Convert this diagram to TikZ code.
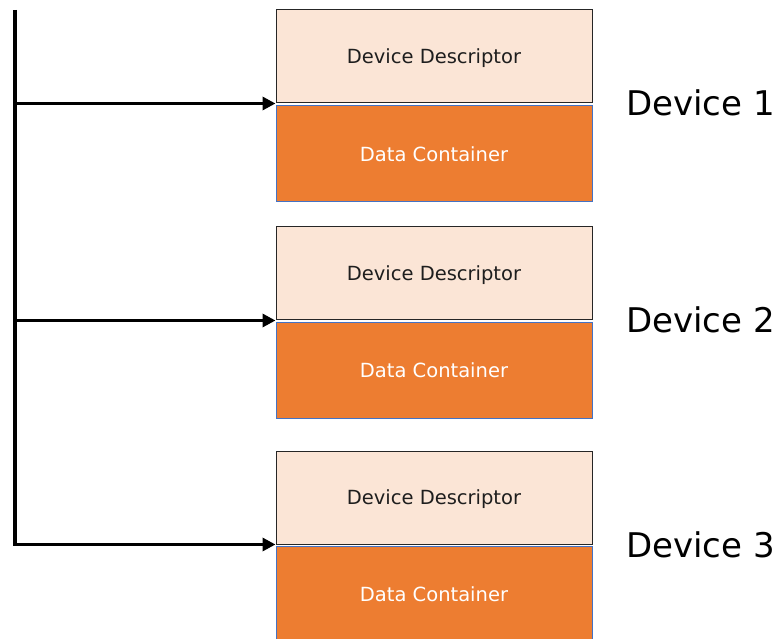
\documentclass[tikz,border=0pt]{standalone}
\usepackage{fontspec}
\setmainfont{DejaVu Sans}
\usetikzlibrary{arrows.meta}
\definecolor{descfill}{HTML}{FBE5D6}
\definecolor{contfill}{HTML}{ED7D31}
\definecolor{contedge}{HTML}{4472C4}
\definecolor{desctext}{HTML}{1E1E1E}
\tikzset{
  boxtext/.style={font=\fontsize{19.5}{23}\selectfont, text height=14.2pt, text depth=0pt},
  descbox/.style={draw=black!85, line width=1pt, fill=descfill, rectangle,
    minimum width=316pt, minimum height=93pt, inner sep=0pt,
    text=desctext, boxtext},
  contbox/.style={draw=contedge, line width=1pt, fill=contfill, rectangle,
    minimum width=316pt, minimum height=96pt, inner sep=0pt,
    text=white, boxtext},
  devlabel/.style={anchor=west, inner sep=0pt, font=\fontsize{34}{39}\selectfont},
  spine/.style={line width=3.6pt, black},
  feed/.style={line width=3.6pt, black, -{Triangle[length=13pt,width=13pt]}}
}
\begin{document}
\begin{tikzpicture}[x=1pt,y=-1pt]
\useasboundingbox (0,0) rectangle (780,639);

% device 1
\node[descbox] (d1) at (434,56.5) {Device Descriptor};
\node[contbox] (c1) at (434,154) {Data Container};
% device 2
\node[descbox] (d2) at (434,273.5) {Device Descriptor};
\node[contbox] (c2) at (434,370.5) {Data Container};
% device 3
\node[descbox] (d3) at (434,497.5) {Device Descriptor};
\node[contbox] (c3) at (434,594) {Data Container};

\node[devlabel] (l1) at (626,103) {Device 1};
\node[devlabel] (l2) at (626,320) {Device 2};
\node[devlabel] (l3) at (626,545) {Device 3};

% common bus on the left
\coordinate (top) at (15,10);
\coordinate (j1) at (top |- d1.south west);
\coordinate (j2) at (top |- d2.south west);
\coordinate (j3) at (top |- d3.south west);
\draw[spine] (top) -- ([yshift=-1.8pt]j3);
\draw[feed] (j1) -- (d1.south west);
\draw[feed] (j2) -- (d2.south west);
\draw[feed] (j3) -- (d3.south west);
\end{tikzpicture}
\end{document}
